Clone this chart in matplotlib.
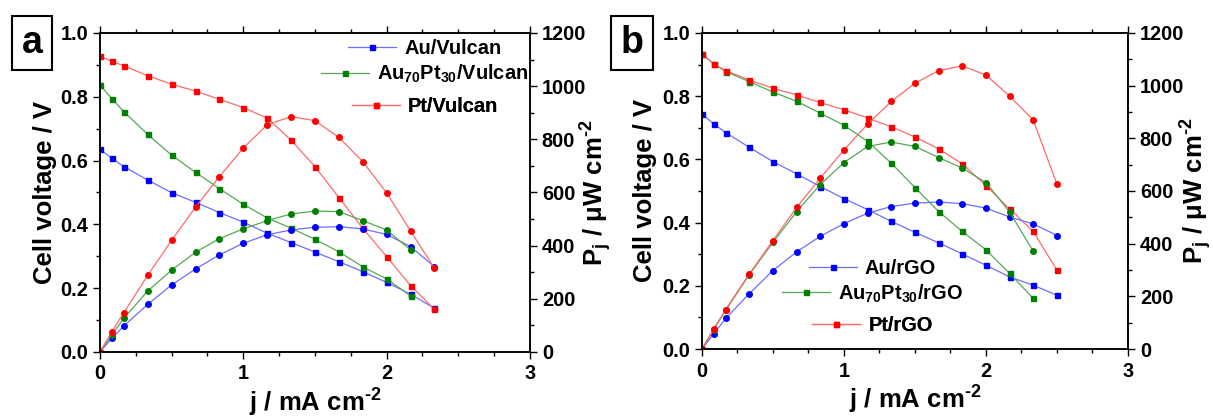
import matplotlib
matplotlib.use("Agg")
import matplotlib.pyplot as plt
from matplotlib.ticker import MultipleLocator

plt.rcParams['font.family'] = ['Liberation Sans', 'DejaVu Sans']
plt.rcParams['font.weight'] = 'bold'
plt.rcParams['axes.labelweight'] = 'bold'
plt.rcParams['mathtext.fontset'] = 'custom'
plt.rcParams['mathtext.rm'] = 'Liberation Sans:bold'
plt.rcParams['mathtext.it'] = 'Liberation Sans:bold'
plt.rcParams['mathtext.bf'] = 'Liberation Sans:bold'
plt.rcParams['mathtext.default'] = 'rm'

# current density, mA cm-2
j_a = [0, 0.083, 0.167, 0.333, 0.5, 0.667, 0.833, 1.0, 1.167, 1.333, 1.5, 1.667, 1.833, 2.0, 2.167, 2.333]
j_b = [0, 0.083, 0.167, 0.333, 0.5, 0.667, 0.833, 1.0, 1.167, 1.333, 1.5, 1.667, 1.833, 2.0, 2.167, 2.333, 2.5]

# panel a - Vulcan supports
au_vul_v = [0.635, 0.607, 0.581, 0.539, 0.499, 0.469, 0.437, 0.407, 0.372, 0.343, 0.313, 0.283, 0.252, 0.218, 0.181, 0.137]
au_vul_p = [0, 51, 98, 179, 252, 312, 365, 409, 441, 459, 469, 471, 463, 442, 396, 321]
aupt_vul_v = [0.837, 0.794, 0.753, 0.682, 0.617, 0.563, 0.512, 0.463, 0.420, 0.388, 0.353, 0.314, 0.267, 0.229, 0.176]
aupt_vul_p = [0, 64, 127, 229, 308, 375, 426, 463, 494, 519, 530, 528, 494, 459, 384]
pt_vul_v = [0.928, 0.911, 0.897, 0.866, 0.839, 0.818, 0.792, 0.766, 0.733, 0.664, 0.581, 0.484, 0.388, 0.299, 0.208, 0.134]
pt_vul_p = [0, 76, 148, 288, 420, 545, 659, 767, 855, 885, 870, 807, 716, 599, 455, 315]

# panel b - rGO supports
au_rgo_v = [0.744, 0.712, 0.685, 0.638, 0.593, 0.554, 0.514, 0.476, 0.441, 0.404, 0.369, 0.336, 0.301, 0.265, 0.228, 0.202, 0.170]
au_rgo_p = [0, 58, 116, 210, 298, 369, 428, 476, 516, 541, 554, 558, 552, 535, 501, 475, 431]
aupt_rgo_v = [0.934, 0.901, 0.878, 0.846, 0.813, 0.784, 0.746, 0.708, 0.657, 0.588, 0.511, 0.435, 0.372, 0.314, 0.239, 0.160]
aupt_rgo_p = [0, 74, 147, 282, 405, 522, 624, 708, 769, 786, 769, 727, 687, 632, 520, 371]
pt_rgo_v = [0.934, 0.902, 0.881, 0.851, 0.825, 0.804, 0.780, 0.757, 0.731, 0.703, 0.671, 0.633, 0.586, 0.517, 0.443, 0.372, 0.249]
pt_rgo_p = [0, 76, 150, 285, 412, 538, 649, 756, 854, 940, 1009, 1057, 1075, 1040, 960, 869, 626]

colors = {'blue': ('#0000ff', '#6e6eff'), 'green': ('#008000', '#55a855'), 'red': ('#ff0000', '#ff6a6a')}

TICK = 14.4
LABEL = 18.5


def style_axes(ax, ax2, ylab_x, y2lab_x):
    ax.set_xlim(0, 3)
    ax.set_ylim(0, 1.0)
    ax2.set_ylim(0, 1200)
    ax.xaxis.set_major_locator(MultipleLocator(1))
    ax.xaxis.set_minor_locator(MultipleLocator(0.25))
    ax.yaxis.set_major_locator(MultipleLocator(0.2))
    ax.yaxis.set_minor_locator(MultipleLocator(0.1))
    ax2.yaxis.set_major_locator(MultipleLocator(200))
    ax2.yaxis.set_minor_locator(MultipleLocator(100))
    ax.yaxis.set_major_formatter(plt.FormatStrFormatter('%.1f'))
    ax.tick_params(which='both', direction='out', top=True, width=1, labelsize=TICK)
    ax.tick_params(which='major', length=5)
    ax.tick_params(which='minor', length=3)
    ax.tick_params(axis='x', pad=4)
    ax2.tick_params(which='both', direction='out', width=1, labelsize=TICK)
    ax2.tick_params(which='major', length=5)
    ax2.tick_params(which='minor', length=3)
    for a in (ax, ax2):
        for s in a.spines.values():
            s.set_linewidth(1.1)
    ax.set_xlabel(r'j / mA cm$^{\text{-2}}$', fontsize=LABEL)
    ax.set_ylabel('Cell voltage / V', fontsize=LABEL)
    ax2.set_ylabel(r'P$_{j}$ / μW cm$^{\text{-2}}$', fontsize=LABEL)
    ax.xaxis.set_label_coords(0.5, -0.11)
    ax.yaxis.set_label_coords(ylab_x, 0.5)
    ax2.yaxis.set_label_coords(y2lab_x, 0.5)


def draw(ax, ax2, j, v, p, key):
    c, lc = colors[key]
    ax.plot(j[:len(v)], v, color=lc, lw=0.9, marker='s', ms=3.6, mfc=c, mec=c)
    ax2.plot(j[:len(p)], p, color=lc, lw=0.9, marker='o', ms=4, mfc=c, mec=c)


def legend_entry(ax, label, key, x, y):
    c, lc = colors[key]
    h, = ax.plot([], [], color=lc, lw=0.9, marker='s', ms=3.6, mfc=c, mec=c)
    leg = ax.legend([h], [label], loc='center', bbox_to_anchor=(x, y), frameon=False,
                    fontsize=TICK, handlelength=2.4, handletextpad=0.4, borderpad=0, borderaxespad=0)
    ax.add_artist(leg)


fig = plt.figure(figsize=(12.13, 4.17), dpi=100)
ax_a = fig.add_axes([0.0824, 0.156, 0.3545, 0.765])
ax_a2 = ax_a.twinx()
ax_b = fig.add_axes([0.5787, 0.163, 0.3512, 0.758])
ax_b2 = ax_b.twinx()

draw(ax_a, ax_a2, j_a, au_vul_v, au_vul_p, 'blue')
draw(ax_a, ax_a2, j_a, aupt_vul_v, aupt_vul_p, 'green')
draw(ax_a, ax_a2, j_a, pt_vul_v, pt_vul_p, 'red')

draw(ax_b, ax_b2, j_b, au_rgo_v, au_rgo_p, 'blue')
draw(ax_b, ax_b2, j_b, aupt_rgo_v, aupt_rgo_p, 'green')
draw(ax_b, ax_b2, j_b, pt_rgo_v, pt_rgo_p, 'red')

style_axes(ax_a, ax_a2, -0.10, 1.112)
style_axes(ax_b, ax_b2, -0.106, 1.117)

legend_entry(ax_a2, 'Au/Vulcan', 'blue', 0.756, 0.952)
legend_entry(ax_a2, 'Au$_{70}$Pt$_{30}$/Vulcan', 'green', 0.756, 0.871)
legend_entry(ax_a2, 'Pt/Vulcan', 'red', 0.756, 0.769)

legend_entry(ax_b2, 'Au/rGO', 'blue', 0.40, 0.255)
legend_entry(ax_b2, 'Au$_{70}$Pt$_{30}$/rGO', 'green', 0.40, 0.176)
legend_entry(ax_b2, 'Pt/rGO', 'red', 0.40, 0.074)

for letter, x in (('a', 32 / 1213), ('b', 632 / 1213)):
    fig.text(x, 1 - 43 / 417, letter, fontsize=27, fontweight='bold', ha='center', va='center',
             bbox=dict(boxstyle='square,pad=0.25', facecolor='white', edgecolor='black', linewidth=1.5))

fig.savefig('out.png', dpi=100)
